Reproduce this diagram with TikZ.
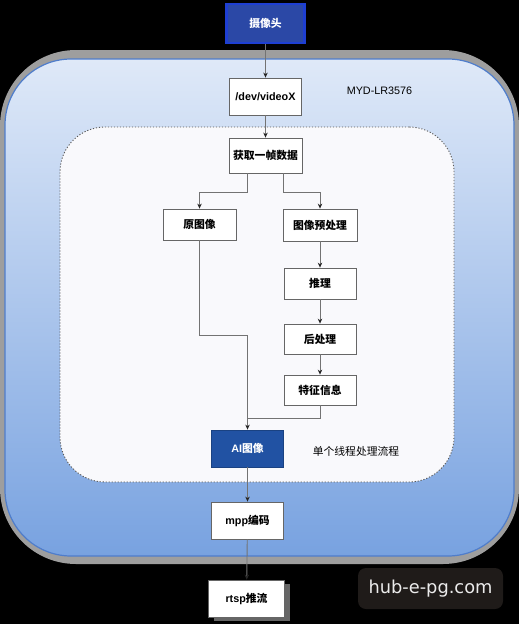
\documentclass[tikz,border=0pt]{standalone}
\usepackage{fontspec}
\setmainfont{Liberation Sans}
\newfontfamily\cjk{Noto Sans CJK SC}
\newfontfamily\markfont{DejaVu Sans}
\usetikzlibrary{shadows}
\usetikzlibrary{positioning, arrows.meta, calc}

\definecolor{camfill}{HTML}{2B48A6}
\definecolor{camedge}{HTML}{1E3FD2}
\definecolor{aifill}{HTML}{2152A3}
\definecolor{boardtop}{HTML}{DFE9F8}
\definecolor{boardbottom}{HTML}{78A2E0}
\definecolor{boardedge}{HTML}{4F7DCB}
\definecolor{innerfill}{HTML}{F9F9FC}
\definecolor{wmfill}{HTML}{1F1B19}

\begin{document}
\begin{tikzpicture}[
    x=1pt, y=-1pt,
    stage/.style={rectangle, draw=black!60, fill=white, line width=0.8pt, minimum width=72pt, minimum height=31pt, align=center, font=\fontsize{10.8}{13}\selectfont\bfseries},
    camstage/.style={stage, draw=camedge, fill=camfill, text=white, line width=2.5pt, minimum width=78pt, minimum height=39pt},
    aistage/.style={stage, draw=aifill!80!black, fill=aifill, text=white, minimum height=37pt},
    board/.style={rectangle, draw=boardedge, line width=1.2pt, rounded corners=66pt, top color=boardtop, bottom color=boardbottom, minimum width=509pt, minimum height=497pt},
    thread/.style={rectangle, draw=black!65, fill=innerfill, line width=0.9pt, dash pattern=on 1.2pt off 1.8pt, rounded corners=45pt, minimum width=394pt, minimum height=355pt},
    caption/.style={font=\fontsize{10.8}{13}\selectfont},
    watermark/.style={rectangle, fill=wmfill, rounded corners=8pt, text=white!92!black, minimum width=145pt, minimum height=41pt, font=\fontsize{17.8}{20}\selectfont\markfont},
    line/.style={draw=black!55, line width=0.9pt},
    arrow/.style={line, -{Stealth[length=5pt, width=4.5pt, color=black!85]}}
]

    % Background
    \useasboundingbox (0,0) rectangle (519,624);
    \fill[black] (0,0) rectangle (519,624);
    \fill[black!38, rounded corners=76pt] (0,50) rectangle (519,564);

    % Regions
    \node[board] (board) at (259.5,307.5) {};
    \node[thread] (thread) at (257,304.5) {};
    \node[caption] (boardname) at (379.5,91) {MYD-LR3576};
    \node[caption] (threadname) at (356,451) {\cjk 单个线程处理流程};

    % Stages
    \node[camstage] (cam) at (265.5,23.5) {\cjk 摄像头};
    \node[stage, minimum height=37pt] (video) at (265.5,96.5) {/dev/videoX};
    \node[stage, minimum width=73pt, minimum height=35pt] (grab) at (265.5,155.5) {\cjk 获取一帧数据};
    \node[stage, minimum width=73pt] (orig) at (199.5,224.5) {\cjk 原图像};
    \node[stage, minimum width=74pt, minimum height=32pt] (pre) at (320,225) {\cjk 图像预处理};
    \node[stage] (infer) at (320,283.5) {\cjk 推理};
    \node[stage, minimum height=30pt] (post) at (320,339) {\cjk 后处理};
    \node[stage, minimum height=30pt] (feat) at (320,390) {\cjk 特征信息};
    \node[aistage] (ai) at (247.5,448.5) {AI{\cjk 图像}};
    \node[stage, minimum height=37pt] (mpp) at (247.5,520.5) {mpp{\cjk 编码}};
    \node[stage, minimum width=76pt, minimum height=37pt, drop shadow={shadow xshift=5pt, shadow yshift=-4pt, fill=black!60, opacity=1}] (rtsp) at (246.5,598.5) {rtsp{\cjk 推流}};

    % Watermark
    \node[watermark] (wm) at (430.5,588.5) {hub-e-pg.com};

    % Joins
    \coordinate (join) at (247.5,335);
    \coordinate (merge) at (247.5,418);

    % Edges
    \draw[arrow] (cam) -- (video);
    \draw[arrow] (video) -- (grab);
    \draw[arrow] ([xshift=-18pt]grab.south) -- ++(0,19) -| (orig.north);
    \draw[arrow] ([xshift=18pt]grab.south) -- ++(0,19) -| (pre.north);
    \draw[arrow] (pre) -- (infer);
    \draw[arrow] (infer) -- (post);
    \draw[arrow] (post) -- (feat);
    \draw[line] (orig.south) |- (join);
    \draw[line] (feat.south) |- (merge);
    \draw[arrow] (join) -- (ai.north);
    \draw[arrow] (ai) -- (mpp);
    \draw[arrow] (mpp) -- (rtsp);

\end{tikzpicture}
\end{document}
